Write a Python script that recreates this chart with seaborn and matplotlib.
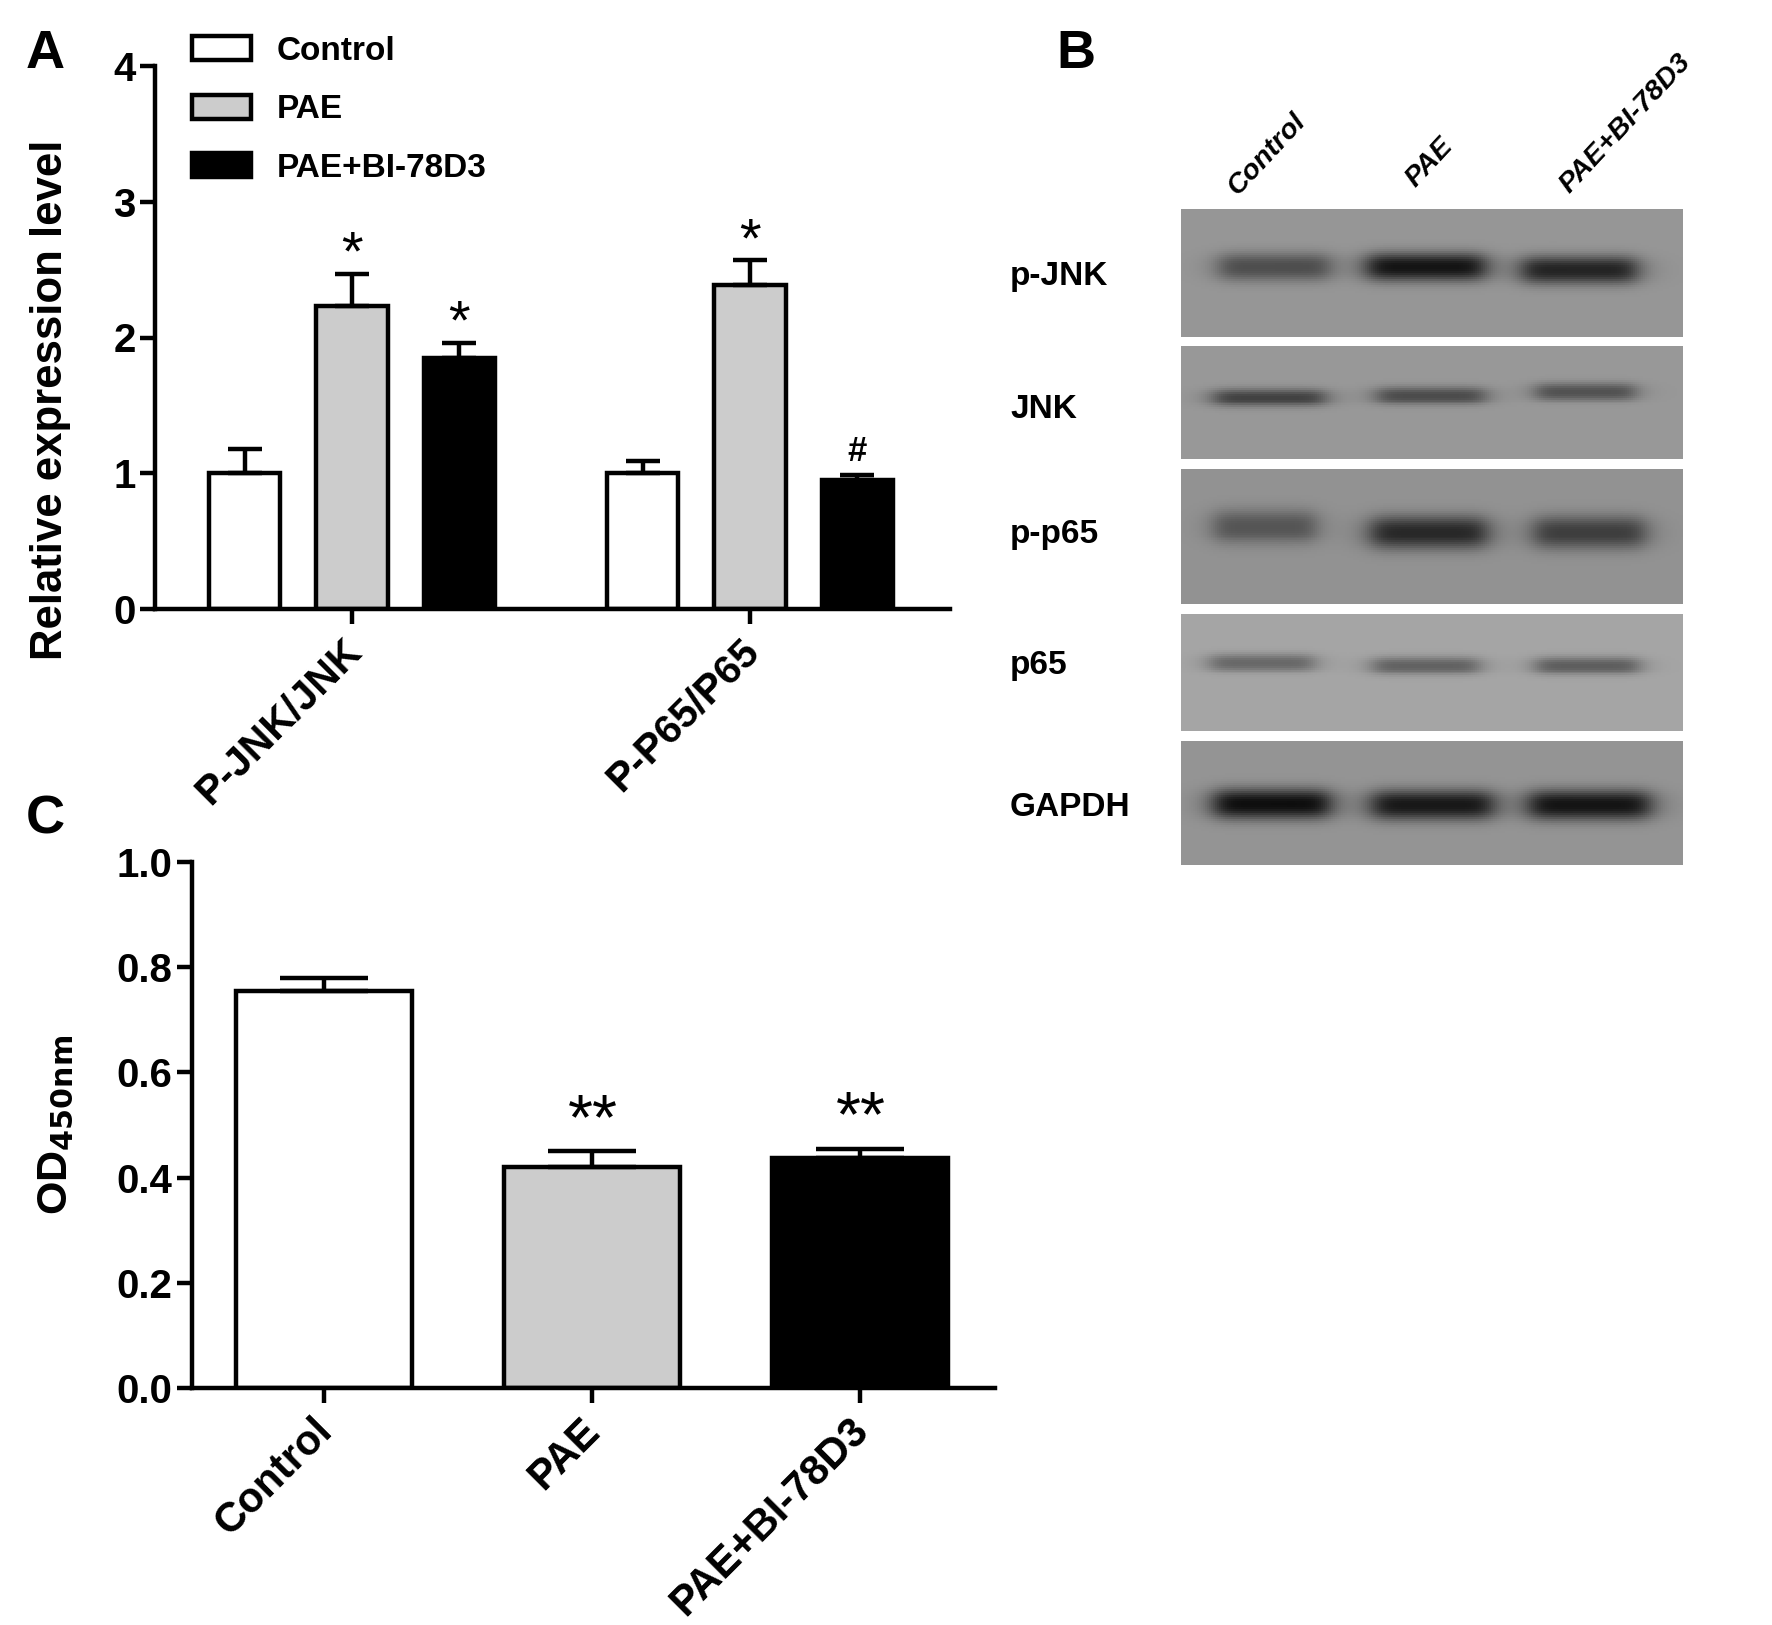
"""Three panel figure: bar charts A and C, western blot strips B."""

import matplotlib

matplotlib.use("Agg")

import matplotlib.pyplot as plt
import matplotlib.transforms as mtrans
import numpy as np
import pandas as pd
import seaborn as sns

# panel A
groups_a = ["P-JNK/JNK", "P-P65/P65"]
treatments = ["Control", "PAE", "PAE+BI-78D3"]
values_a = {"Control": [1.0, 1.0], "PAE": [2.23, 2.39], "PAE+BI-78D3": [1.85, 0.95]}
errors_a = {"Control": [0.18, 0.09], "PAE": [0.24, 0.18], "PAE+BI-78D3": [0.11, 0.04]}
marks_a = {"Control": ["", ""], "PAE": ["*", "*"], "PAE+BI-78D3": ["*", "#"]}

# panel C
values_c = [0.755, 0.42, 0.437]
errors_c = [0.025, 0.03, 0.018]
marks_c = ["", "**", "**"]

# panel B, grey levels (0 black, 255 white)
blot_rows = ["p-JNK", "JNK", "p-p65", "p65", "GAPDH"]
blot_background = [150, 152, 146, 165, 148]
blot_bands = [
    [78, 20, 36],
    [66, 76, 82],
    [85, 40, 62],
    [104, 98, 94],
    [14, 24, 20],
]

colors = {"Control": "white", "PAE": "#cccccc", "PAE+BI-78D3": "black"}

W, H = 1772, 1625
LW = 3.2

sns.set_style("ticks")
plt.rcParams["font.family"] = ["Liberation Sans", "DejaVu Sans"]
plt.rcParams["font.weight"] = "bold"
plt.rcParams["axes.labelweight"] = "bold"
plt.rcParams["mathtext.fontset"] = "custom"
plt.rcParams["mathtext.bf"] = "DejaVu Sans:bold"
plt.rcParams["mathtext.rm"] = "DejaVu Sans:bold"
for key in ("text.color", "axes.labelcolor", "xtick.color", "ytick.color", "axes.edgecolor"):
    plt.rcParams[key] = "black"

fig = plt.figure(figsize=(W / 100, H / 100), dpi=100, facecolor="white")


def px_axes(left, top, right, bottom):
    return fig.add_axes([left / W, 1 - bottom / H, (right - left) / W, (bottom - top) / H])


def px_text(x, y, s, **kw):
    fig.text(x / W, 1 - y / H, s, **kw)


def style_axes(ax, tick_size):
    sns.despine(ax=ax)
    for side in ("left", "bottom"):
        ax.spines[side].set_linewidth(LW)
    ax.tick_params(width=LW, length=11, labelsize=tick_size, pad=3)
    for label in ax.get_yticklabels():
        label.set_fontweight("bold")
    ax.set_xlabel("")
    ax.patch.set_alpha(0)


def rotate_labels(ax, size, shift_x):
    ax.set_xticks(ax.get_xticks())
    ax.set_xticklabels(
        [t.get_text() for t in ax.get_xticklabels()],
        rotation=45, ha="right", va="top", rotation_mode="anchor",
        fontsize=size, fontweight="bold",
    )
    # labels sit a little left of the tick in the original
    offset = mtrans.ScaledTranslation(shift_x / 100, -3 / 100, fig.dpi_scale_trans)
    for label in ax.get_xticklabels():
        label.set_transform(label.get_transform() + offset)


def add_errors(ax, bar, err, capsize):
    x = bar.get_x() + bar.get_width() / 2
    ax.errorbar(x, bar.get_height(), yerr=[[0], [err]], color="black", elinewidth=LW,
                capsize=capsize, capthick=LW, zorder=1)


# panel A
ax_a = px_axes(155, 66, 950, 609)
df_a = pd.DataFrame(
    [
        {"group": g, "treatment": t, "value": values_a[t][i]}
        for t in treatments
        for i, g in enumerate(groups_a)
    ]
)
sns.barplot(
    data=df_a, x="group", y="value", hue="treatment", hue_order=treatments, palette=colors,
    order=groups_a, errorbar=None, width=0.81, gap=0.335, saturation=1,
    edgecolor="black", linewidth=LW, ax=ax_a,
)
for cont, t in zip(ax_a.containers, treatments):
    for bar, err, mark in zip(cont, errors_a[t], marks_a[t]):
        add_errors(ax_a, bar, err, 12.5)
        if mark:
            ax_a.annotate(
                mark, (bar.get_x() + bar.get_width() / 2, bar.get_height() + err),
                xytext=(0, 3 if mark == "*" else 10), textcoords="offset points",
                ha="center", va="baseline", fontweight="normal" if mark == "*" else "bold",
                fontsize=40 if mark == "*" else 25,
            )
ax_a.set_xlim(-0.495, 1.5025)
ax_a.set_ylim(0, 4)
ax_a.set_yticks([0, 1, 2, 3, 4])
ax_a.set_ylabel("Relative expression level", fontsize=31.5)
ax_a.yaxis.set_label_coords(-0.106, 0.385)
style_axes(ax_a, 29)
rotate_labels(ax_a, 29.5, -10)
sns.move_legend(
    ax_a, "upper left", bbox_to_anchor=(192 / W, 1 - 36 / H), bbox_transform=fig.transFigure,
    title=None, frameon=False, fontsize=24, handlelength=1.77, handleheight=0.72,
    handletextpad=0.78, labelspacing=0.82, borderpad=0, borderaxespad=0,
)

# panel C
ax_c = px_axes(192, 862, 995, 1388)
df_c = pd.DataFrame({"treatment": treatments, "value": values_c})
sns.barplot(
    data=df_c, x="treatment", y="value", hue="treatment", palette=colors, legend=False,
    errorbar=None, width=0.655, saturation=1, edgecolor="black", linewidth=LW, ax=ax_c,
)
bars_c = [b for cont in ax_c.containers for b in cont]
for bar, err, mark in zip(bars_c, errors_c, marks_c):
    add_errors(ax_c, bar, err, 32)
    if mark:
        ax_c.annotate(
            mark, (bar.get_x() + bar.get_width() / 2, bar.get_height() + err),
            xytext=(1, 9), textcoords="offset points",
            ha="center", va="baseline", fontweight="normal", fontsize=46,
        )
ax_c.set_xlim(-0.4925, 2.504)
ax_c.set_ylim(0, 1)
ax_c.set_yticks([0, 0.2, 0.4, 0.6, 0.8, 1.0])
ax_c.set_yticklabels(["0.0", "0.2", "0.4", "0.6", "0.8", "1.0"])
ax_c.set_ylabel(r"OD$_{\mathbf{450nm}}$", fontsize=31)
ax_c.yaxis.set_label_coords(-0.144, 0.5)
style_axes(ax_c, 29)
rotate_labels(ax_c, 30, -12)

# panel B
strip_left, strip_right = 1181, 1683
strip_edges = [(209, 337), (346, 459), (469, 604), (614, 731), (741, 865)]
band_x = [
    [(1218, 1331), (1366, 1486), (1521, 1638)],
    [(1213, 1326), (1376, 1486), (1535, 1636)],
    [(1213, 1317), (1370, 1488), (1533, 1646)],
    [(1209, 1315), (1372, 1480), (1535, 1640)],
    [(1213, 1331), (1371, 1494), (1528, 1651)],
]
band_y = [[267, 267, 270], [398, 396, 392], [527, 533, 533], [663, 666, 666], [804, 805, 805]]
band_half = [14, 9, 17, 9, 15]

for r, (top, bottom) in enumerate(strip_edges):
    ax = px_axes(strip_left, top, strip_right, bottom)
    xx, yy = np.meshgrid(np.arange(strip_left, strip_right, 2) + 1.0, np.arange(top, bottom, 2) + 1.0)
    grid = np.full(xx.shape, float(blot_background[r]))
    for lane, gray in enumerate(blot_bands[r]):
        x0, x1 = band_x[r][lane]
        profile = np.exp(-np.abs((yy - band_y[r][lane]) / band_half[r]) ** 2.4)
        profile = profile / (1 + (2 * (xx - (x0 + x1) / 2) / (x1 - x0)) ** 8)
        grid -= (blot_background[r] - gray) * profile
    sns.heatmap(grid, cmap="gray", vmin=0, vmax=255, cbar=False, xticklabels=False,
                yticklabels=False, ax=ax)
    ax.tick_params(length=0)

for name, y in zip(blot_rows, [277, 409, 534, 665, 807]):
    px_text(1010, y, name, fontsize=24, fontweight="bold", va="center", ha="left")

for name, (x, y) in zip(treatments, [(1238, 196), (1416, 188), (1570, 194)]):
    px_text(x, y, name, fontsize=20.5, fontweight="bold", style="italic", rotation=47,
            rotation_mode="anchor", ha="left", va="baseline")

px_text(26, 54, "A", fontsize=39, fontweight="bold", va="center")
px_text(1056, 54, "B", fontsize=39, fontweight="bold", va="center")
px_text(26, 819, "C", fontsize=39, fontweight="bold", va="center")

fig.savefig("out.png", dpi=100, facecolor="white")
